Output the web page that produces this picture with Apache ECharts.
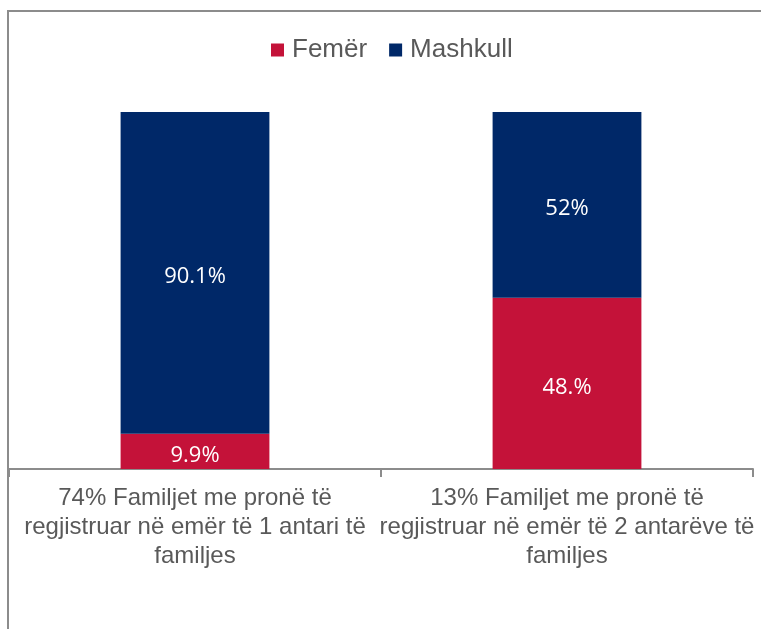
<!DOCTYPE html>
<html>
<head>
<meta charset="utf-8">
<script src="https://cdn.jsdelivr.net/npm/echarts@6/dist/echarts.min.js"></script>
<style>
  html, body { margin: 0; padding: 0; background: #fff; }
  #chart { width: 761px; height: 629px; }
</style>
</head>
<body>
<div id="chart"></div>
<script>
// kategorite (me ndarje rreshtash si ne origjinal)
const categories = [
  '74% Familjet me pronë të\nregjistruar në emër të 1 antari të\nfamiljes',
  '13% Familjet me pronë të\nregjistruar në emër të 2 antarëve të\nfamiljes'
]
const femerData = [9.9, 48]
const mashkullData = [90.1, 52]
const femerLabels = ['9.9%', '48.%']
const mashkullLabels = ['90.1%', '52%']

const chart = echarts.init(document.getElementById('chart'))

const labelStyle = (texts) => ({
  show: true,
  position: 'inside',
  offset: [0, 4],
  color: '#ffffff',
  fontFamily: 'Open Sans',
  fontSize: 22,
  formatter: (p) => texts[p.dataIndex]
})

const option = {
  animation: false,
  graphic: [{
    type: 'rect',
    z: -1,
    shape: { x: 8, y: 11, width: 800, height: 700 },
    style: { fill: 'none', stroke: '#8c8c8c', lineWidth: 2 }
  }],
  legend: {
    top: 32,
    left: 266,
    icon: 'rect',
    itemWidth: 13,
    itemHeight: 13,
    itemGap: 22,
    textStyle: {
      color: '#595959',
      fontFamily: 'Liberation Sans',
      fontSize: 26,
      padding: [0, 0, 0, 3]
    },
    data: ['Femër', 'Mashkull']
  },
  grid: {
    left: 9,
    right: 8,
    top: 112,
    bottom: 160
  },
  xAxis: {
    type: 'category',
    data: categories,
    axisLine: { lineStyle: { color: '#8c8c8c', width: 2 } },
    axisTick: { show: true, alignWithLabel: false, length: 8, lineStyle: { color: '#8c8c8c', width: 2 } },
    axisLabel: {
      color: '#595959',
      fontFamily: 'Liberation Sans',
      fontSize: 24,
      lineHeight: 29,
      margin: 15,
      interval: 0
    }
  },
  yAxis: {
    type: 'value',
    min: 0,
    max: 100,
    show: false,
    splitLine: { show: false }
  },
  series: [
    {
      name: 'Femër',
      type: 'bar',
      stack: 'total',
      barWidth: '40%',
      data: femerData,
      itemStyle: { color: '#c41239' },
      label: labelStyle(femerLabels)
    },
    {
      name: 'Mashkull',
      type: 'bar',
      stack: 'total',
      barWidth: '40%',
      data: mashkullData,
      itemStyle: { color: '#002868' },
      label: labelStyle(mashkullLabels)
    }
  ]
}
chart.setOption(option)
</script>
</body>
</html>
